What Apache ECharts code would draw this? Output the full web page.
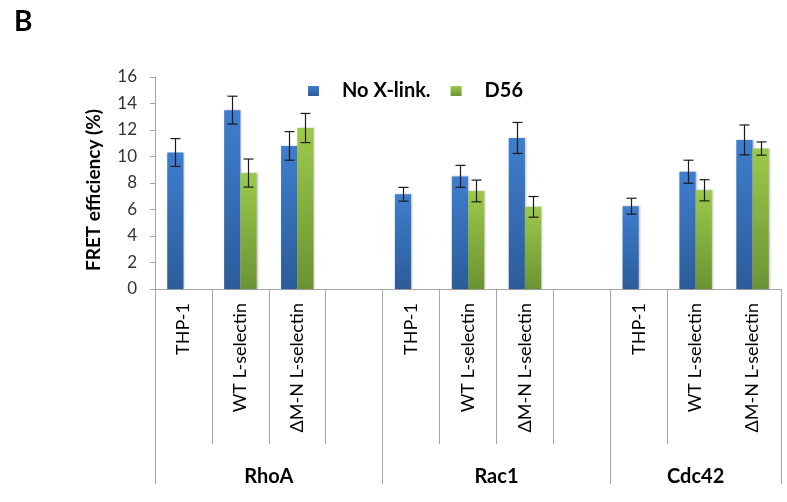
<!DOCTYPE html>
<html>
<head>
<meta charset="utf-8">
<script src="https://cdn.jsdelivr.net/npm/echarts@6/dist/echarts.min.js"></script>
<style>
  html, body { margin: 0; padding: 0; background: #fff; }
  #chart { width: 787px; height: 502px; }
</style>
</head>
<body>
<div id="chart"></div>
<script>
// Sub-category slots along the x axis; empty strings are spacer slots between GTPase groups
const categories = [
  'THP-1', 'WT L-selectin', 'ΔM-N L-selectin', '',
  'THP-1', 'WT L-selectin', 'ΔM-N L-selectin', '',
  'THP-1', 'WT L-selectin', 'ΔM-N L-selectin'
];
// GTPase groups and how many slots each spans (members plus trailing spacer)
const groups = ['RhoA', 'Rac1', 'Cdc42'];
const groupSpans = [4, 4, 3];

// FRET efficiency (%) means
const noXlink = [10.3, 13.5, 10.8, null, 7.15, 8.5, 11.4, null, 6.25, 8.85, 11.25];
const d56     = [null, 8.75, 12.15, null, null, 7.4, 6.2, null, null, 7.45, 10.6];
// Error bar half-widths
const noXlinkErr = [1.05, 1.05, 1.08, null, 0.52, 0.83, 1.17, null, 0.6, 0.87, 1.13];
const d56Err     = [null, 1.06, 1.1, null, null, 0.82, 0.78, null, null, 0.8, 0.5];

const yTicks = { min: 0, max: 16, interval: 2 };

const FONT = 'Lato, "Open Sans", sans-serif';
const BAR_FRAC = 0.285;   // each bar's share of a category band

// Half-slot grid used by the group axis (boundaryGap off, so item i sits at i/2 slots)
const halfSlots = [];
const groupBoundaries = [0];
const groupLabelIdx = {};
{
  let pos = 0;
  groupSpans.forEach((span, g) => {
    groupLabelIdx[pos + span] = groups[g];  // centre of the span in half-slot units
    pos += span * 2;
    groupBoundaries.push(pos);
  });
  for (let i = 0; i <= pos; i++) halfSlots.push(groupLabelIdx[i] || '');
}

// Ticks of the inner axis: slot boundaries inside each group
const innerTickIdx = new Set();
{
  let start = 0;
  groupSpans.forEach(span => {
    for (let k = 1; k < span; k++) innerTickIdx.add(start + k);
    start += span;
  });
}
innerTickIdx.delete(10);

function errData(vals, errs) {
  const out = [];
  vals.forEach((v, i) => { if (v != null && errs[i] != null) out.push([i, v, errs[i]]); });
  return out;
}

function errRenderer(side) {
  return function (params, api) {
    const idx = api.value(0), v = api.value(1), e = api.value(2);
    const band = api.size([1, 0])[0];
    const dx = side * band * BAR_FRAC / 2;
    const top = api.coord([idx, v + e]);
    const bot = api.coord([idx, v - e]);
    const x = Math.round(top[0] + dx) + 0.5;
    const cap = 5;
    const style = { stroke: '#1a1a1a', lineWidth: 1.2 };
    return {
      type: 'group',
      children: [
        { type: 'line', shape: { x1: x, y1: top[1], x2: x, y2: bot[1] }, style },
        { type: 'line', shape: { x1: x - cap, y1: top[1], x2: x + cap, y2: top[1] }, style },
        { type: 'line', shape: { x1: x - cap, y1: bot[1], x2: x + cap, y2: bot[1] }, style }
      ]
    };
  };
}

const blueFill = new echarts.graphic.LinearGradient(0, 0, 0, 1, [
  { offset: 0, color: '#3f7ecf' }, { offset: 1, color: '#2c5c99' }
]);
const greenFill = new echarts.graphic.LinearGradient(0, 0, 0, 1, [
  { offset: 0, color: '#9cc94b' }, { offset: 1, color: '#6c9333' }
]);

const chart = echarts.init(document.getElementById('chart'), null, { renderer: 'canvas' });
chart.setOption({
  animation: false,
  backgroundColor: '#fff',
  title: {
    text: 'B', left: 14, top: 8, padding: 0,
    textStyle: { fontFamily: FONT, fontSize: 28, fontWeight: 'bold', color: '#000' }
  },
  legend: {
    left: 303, top: 76,
    itemWidth: 11, itemHeight: 10, itemGap: 20,
    icon: 'rect',
    textStyle: { fontFamily: FONT, fontSize: 20, fontWeight: 'bold', color: '#000', padding: [0, 0, 0, 18] },
    data: ['No X-link.', 'D56']
  },
  grid: { left: 155, right: 6, top: 77, bottom: 213, containLabel: false },
  xAxis: [
    {
      type: 'category',
      data: categories,
      position: 'bottom',
      axisLine: { show: true, lineStyle: { color: '#a6a6a6', width: 1 } },
      axisTick: {
        show: true, length: 155,
        interval: (i) => innerTickIdx.has(i),
        lineStyle: { color: '#a6a6a6' }
      },
      axisLabel: {
        interval: 0, rotate: 90, margin: 14,
        fontFamily: FONT, fontSize: 18, color: '#000'
      }
    },
    {
      type: 'category',
      data: halfSlots,
      boundaryGap: false,
      position: 'bottom',
      axisLine: { show: false },
      axisTick: {
        show: true, length: 195,
        interval: (i) => groupBoundaries.includes(i),
        lineStyle: { color: '#a6a6a6' }
      },
      axisLabel: {
        interval: 0, margin: 178,
        fontFamily: FONT, fontSize: 20, fontWeight: 'bold', color: '#000'
      }
    }
  ],
  yAxis: {
    type: 'value',
    min: yTicks.min, max: yTicks.max, interval: yTicks.interval,
    name: 'FRET efficiency (%)',
    nameLocation: 'middle',
    nameGap: 52,
    nameTextStyle: {
      fontFamily: FONT, fontSize: 19, fontWeight: 'bold', color: '#000',
      padding: [0, 14, 0, 0]
    },
    axisLine: { show: true, lineStyle: { color: '#a6a6a6' } },
    axisTick: { show: true, length: 5, lineStyle: { color: '#a6a6a6' } },
    splitLine: { show: false },
    axisLabel: { margin: 18, fontFamily: FONT, fontSize: 17, color: '#333' }
  },
  series: [
    {
      name: 'No X-link.', type: 'bar', xAxisIndex: 0,
      data: noXlink, barWidth: (BAR_FRAC * 100) + '%', barGap: '0%',
      itemStyle: { color: blueFill, shadowColor: 'rgba(0,0,0,0.25)', shadowBlur: 2, shadowOffsetX: 1 }
    },
    {
      name: 'D56', type: 'bar', xAxisIndex: 0,
      data: d56, barWidth: (BAR_FRAC * 100) + '%', barGap: '0%',
      itemStyle: { color: greenFill, shadowColor: 'rgba(0,0,0,0.25)', shadowBlur: 2, shadowOffsetX: 1 }
    },
    {
      type: 'custom', xAxisIndex: 0, renderItem: errRenderer(-1),
      data: errData(noXlink, noXlinkErr), encode: { x: 0, y: 1 }, z: 5
    },
    {
      type: 'custom', xAxisIndex: 0, renderItem: errRenderer(1),
      data: errData(d56, d56Err), encode: { x: 0, y: 1 }, z: 5
    }
  ]
});
</script>
</body>
</html>
